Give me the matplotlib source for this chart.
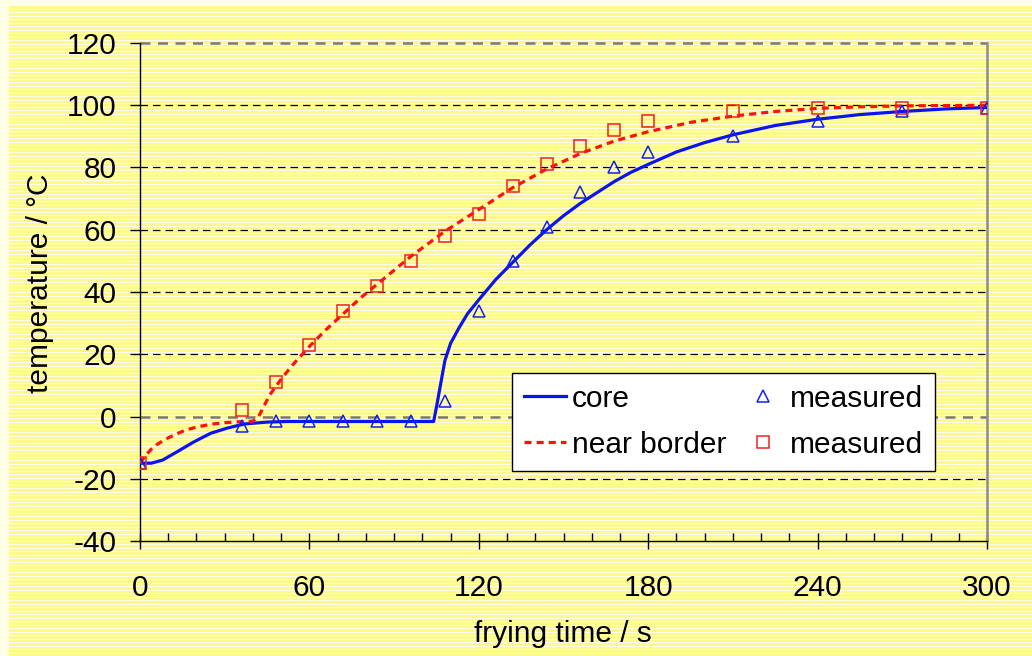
import numpy as np
import matplotlib
matplotlib.use('Agg')
import matplotlib.pyplot as plt

plt.rcParams['font.family'] = ['Liberation Sans', 'DejaVu Sans']
plt.rcParams['axes.unicode_minus'] = False

# simulated curves
core_t = [0, 4, 8, 13, 19, 25, 31, 37, 45, 52, 104, 105, 106, 107, 108, 110, 113,
          116, 120, 126, 132, 138, 144, 150, 156, 162, 168, 174, 180, 190, 200,
          210, 225, 240, 255, 270, 285, 300]
core_T = [-15, -15, -14, -11.4, -8.2, -5.4, -3.7, -2.4, -1.8, -1.6, -1.6, 3, 8, 13,
          18, 23.5, 28.5, 33, 37.5, 44, 49.5, 55, 60, 64.5, 68.5, 72, 75.5, 78.5,
          81, 85, 88, 90.5, 93.5, 95.5, 97, 98, 98.8, 99.3]

border_t = [0, 2, 4, 6, 9, 12, 16, 20, 25, 30, 35, 40, 42, 44, 46, 48, 50, 54, 60,
            66, 72, 78, 84, 90, 96, 102, 108, 114, 120, 126, 132, 138, 144, 150,
            156, 162, 168, 174, 180, 195, 210, 225, 240, 255, 270, 300]
border_T = [-15, -12.5, -10.5, -9, -7.3, -6, -4.4, -3.4, -2.5, -2, -1.7, -1.5, 0,
            3.5, 7, 9.5, 12, 16.5, 22.5, 28, 33, 38, 42.5, 47, 51.5, 55.5, 59.5,
            63, 66.5, 70, 73.5, 76.5, 79.5, 82, 84.5, 86.5, 88.5, 90, 91.5, 94.5,
            96.5, 98, 99, 99.5, 99.8, 100]

# measurements
meas_t = [0, 36, 48, 60, 72, 84, 96, 108, 120, 132, 144, 156, 168, 180, 210, 240, 270, 300]
meas_core = [-15, -3, -1.5, -1.5, -1.5, -1.5, -1.5, 5, 34, 50, 61, 72, 80, 85, 90, 95, 98, 99]
meas_border = [-15, 2, 11, 23, 34, 42, 50, 58, 65, 74, 81, 87, 92, 95, 98, 99, 99, 99]

x_ticks = [0, 60, 120, 180, 240, 300]
y_ticks = [-40, -20, 0, 20, 40, 60, 80, 100, 120]

W, H = 1032, 656
FS = 21.5
fig = plt.figure(figsize=(W / 100, H / 100), dpi=100, facecolor='#FFFFE6')

# striped yellow background
bg = fig.add_axes([9 / W, 0, 1 - 9 / W, 1 - 5 / H], zorder=-10)
rows = H - 5
stripes = np.zeros((rows, 1, 3))
yellow = np.array([255, 249, 140]) / 255
white = np.array([255, 255, 240]) / 255
for i in range(rows):
    stripes[i, 0] = white if i % 7 in (0, 4) else yellow
bg.imshow(stripes, aspect='auto', interpolation='nearest')
bg.axis('off')

ax = fig.add_axes([140 / W, 1 - 541 / H, 847 / W, 498 / H])
ax.set_facecolor('none')

ax.plot(core_t, core_T, color='#0A14F0', lw=2.3, label='core', zorder=3)
ax.plot(border_t, border_T, color='#FF1010', lw=2.3, dashes=(2.2, 1.6),
        label='near border', zorder=4)
ax.plot(meas_t, meas_core, ls='none', marker='^', ms=8, mfc='none',
        mec='#1020F0', mew=1.1, label='measured', zorder=5)
ax.plot(meas_t, meas_border, ls='none', marker='s', ms=8, mfc='none',
        mec='#F02020', mew=1.1, label='measured', zorder=5)

ax.set_xlim(0, 300)
ax.set_ylim(-40, 120)
ax.set_xticks(x_ticks)
ax.set_xticks(range(0, 301, 10), minor=True)
ax.set_yticks(y_ticks)

# horizontal dashed grid
for v in y_ticks[1:-1]:
    if v == 0:
        ax.axhline(v, color='#7A7A6A', lw=1.8, dashes=(4, 3), zorder=1)
    else:
        ax.axhline(v, color='black', lw=0.9, dashes=(6, 4), zorder=1)
ax.axhline(120, color='#7A7A6A', lw=1.8, dashes=(4, 3), zorder=1, clip_on=False)

ax.spines['top'].set_visible(False)
ax.spines['right'].set_color('#8C8C8C')
ax.spines['right'].set_linewidth(1.8)
ax.spines['left'].set_linewidth(1.0)
ax.spines['bottom'].set_linewidth(1.0)

ax.tick_params(axis='x', which='major', direction='inout', length=12, width=1,
               labelsize=FS, pad=18)
ax.tick_params(axis='x', which='minor', direction='in', length=6, width=1)
ax.tick_params(axis='y', which='major', direction='out', length=7, width=1,
               labelsize=FS, pad=10)

fig.text(563 / W, 1 - 634 / H, 'frying time / s', fontsize=FS,
         ha='center', va='center')
fig.text(40 / W, 1 - 283 / H, 'temperature / °C', fontsize=FS,
         ha='center', va='center', rotation=90)

leg = ax.legend(ncol=2, loc='upper left', bbox_to_anchor=(0.439, 0.3375),
                borderaxespad=0, fontsize=FS, frameon=True, fancybox=False,
                edgecolor='black', framealpha=1, handlelength=1.4,
                handletextpad=0.2, columnspacing=0.55, labelspacing=0.6,
                borderpad=0.4)
leg.get_frame().set_linewidth(1.0)
leg.set_zorder(10)

fig.savefig('out.png', dpi=100, facecolor=fig.get_facecolor())
